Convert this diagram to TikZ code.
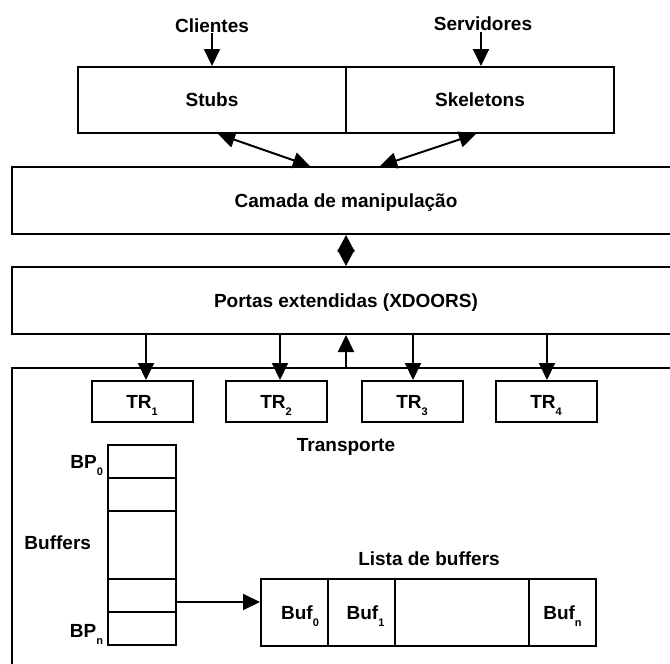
\documentclass[tikz,border=0pt]{standalone}
\usepackage{fontspec}
\setmainfont{Liberation Sans}
\usetikzlibrary{arrows.meta}
% lowered small index, as in TR_1 or Buf_0
\newcommand\sbs[1]{\raisebox{-7pt}{\fontsize{11}{11}\selectfont #1}}
\begin{document}
\begin{tikzpicture}[x=1pt, y=-1pt, line width=2pt,
  every node/.style={font=\fontsize{19}{21}\selectfont\bfseries, inner sep=0pt,
                     text height=13.6pt, text depth=0pt},
  box/.style={draw, rectangle},
  half/.style={box, minimum width=268pt, minimum height=66pt},
  layer/.style={box, minimum width=668pt, minimum height=67pt},
  trbox/.style={box, minimum width=101pt, minimum height=41pt},
  cell/.style={box, minimum width=68pt},
  lcell/.style={box, minimum width=67pt, minimum height=67pt},
  tip/.style={-{Triangle[length=17pt,width=16pt]}},
  twotip/.style={{Triangle[length=17pt,width=16pt]}-{Triangle[length=17pt,width=16pt]}},
  diam/.style={{Triangle[length=16.5pt,width=17pt]}-{Triangle[length=16.5pt,width=17pt]}}]
\useasboundingbox (0,0) rectangle (670,664);

% upper layers
\node (cli) at (212,25.5) {Clientes};
\node (srv) at (483,24) {Servidores};
\node[half] (stubs) at (212,100) {Stubs};
\node[half] (skel) at (480,100) {Skeletons};
\node[layer] (camada) at (346,200.5) {Camada de manipulação};
\node[layer] (portas) at (346,300.5) {Portas extendidas (XDOORS)};

% transport layer
\node[box, minimum width=668pt, minimum height=332pt] (transp) at (346,534) {};
\node[trbox] (tr1) at (142,401.5) {TR\sbs{1}};
\node[trbox] (tr2) at (276,401.5) {TR\sbs{2}};
\node[trbox] (tr3) at (412,401.5) {TR\sbs{3}};
\node[trbox] (tr4) at (546,401.5) {TR\sbs{4}};
\node (transtxt) at (346,444.5) {Transporte};

% buffer pointer column
\node[cell, minimum height=33pt] (bp0) at (142,461.5) {};
\node[cell, minimum height=33pt] (bp1) at (142,494.5) {};
\node[cell, minimum height=68pt] (bpm) at (142,545) {};
\node[cell, minimum height=33pt] (bpn1) at (142,595.5) {};
\node[cell, minimum height=33pt] (bpn) at (142,628.5) {};
\node[anchor=base east] (bp0lbl) at (104,468) {BP\sbs{0}};
\node[anchor=base east] (bpnlbl) at (104,637) {BP\sbs{n}};
\node[anchor=base east] (buflbl) at (92,549) {Buffers};

% buffer list
\node (listlbl) at (429,559) {Lista de buffers};
\node[lcell] (buf0) at (294.5,612.5) {\hspace*{11pt}Buf\sbs{0}};
\node[lcell] (buf1) at (361.5,612.5) {\hspace*{8pt}Buf\sbs{1}};
\node[box, minimum width=134pt, minimum height=67pt] (bufg) at (462,612.5) {};
\node[lcell] (bufn) at (562.5,612.5) {Buf\sbs{n}};

% connectors
\draw[tip] (cli.south) -- (cli.south |- stubs.north);
\draw[tip] ([xshift=-2pt]srv.south) -- ([xshift=-2pt]srv.south |- skel.north);
\draw[twotip] ([xshift=6pt]stubs.south) -- ([xshift=-36pt]camada.north);
\draw[twotip] ([xshift=-4pt]skel.south) -- ([xshift=34pt]camada.north);
\draw[diam] (camada.south) -- (portas.north);
\draw[tip] (transp.north) -- (portas.south);
\draw[tip] ([xshift=4pt]tr1.north |- portas.south) -- ([xshift=4pt]tr1.north);
\draw[tip] ([xshift=4pt]tr2.north |- portas.south) -- ([xshift=4pt]tr2.north);
\draw[tip] ([xshift=1pt]tr3.north |- portas.south) -- ([xshift=1pt]tr3.north);
\draw[tip] ([xshift=1pt]tr4.north |- portas.south) -- ([xshift=1pt]tr4.north);
\draw[tip] ([yshift=-6.5pt]bpn1.east) -- ([yshift=-6.5pt]bpn1.east -| buf0.west);
\end{tikzpicture}
\end{document}
